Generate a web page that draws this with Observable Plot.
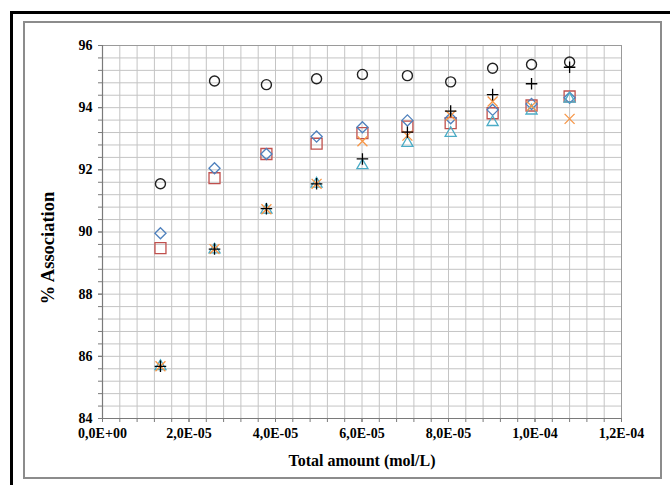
<!DOCTYPE html>
<html><head><meta charset="utf-8">
<script src="https://cdn.jsdelivr.net/npm/d3@7"></script>
<script src="https://cdn.jsdelivr.net/npm/@observablehq/plot@0.6"></script>
<style>
body{margin:0;background:#fff;}
#wrap{position:relative;width:670px;height:485px;overflow:hidden;}
#outer{position:absolute;left:10px;top:11px;width:720px;height:520px;border:3px solid #000;box-sizing:border-box;}
#inner{position:absolute;left:23px;top:21px;width:639px;height:458px;border:2px solid #8c8c8c;box-sizing:border-box;}
#chart{position:absolute;left:0;top:0;}
</style>
</head><body>
<div id="wrap"><div id="outer"></div><div id="inner"></div><div id="chart"></div></div>
<script>
const xVals        = [1.34e-5, 2.59e-5, 3.79e-5, 4.95e-5, 6.01e-5, 7.05e-5, 8.05e-5, 9.02e-5, 9.92e-5, 1.08e-4];
const circleVals   = [91.55, 94.86, 94.74, 94.93, 95.07, 95.03, 94.83, 95.27, 95.39, 95.47];
const diamondVals  = [89.96, 92.05, 92.51, 93.07, 93.37, 93.59, 93.66, 93.93, 94.12, 94.32];
const squareVals   = [89.48, 91.73, 92.51, 92.84, 93.18, 93.39, 93.50, 93.82, 94.07, 94.36];
const triangleVals = [85.68, 89.43, 90.71, 91.55, 92.14, 92.86, 93.18, 93.53, 93.90, 94.28];
const timesVals    = [85.68, 89.45, 90.73, 91.55, 92.92, 93.10, 93.75, 94.20, 94.05, 93.64];
const plusVals     = [85.68, 89.45, 90.75, 91.55, 92.35, 93.21, 93.89, 94.42, 94.77, 95.30];

const xMajorTicks = [0, 2e-5, 4e-5, 6e-5, 8e-5, 1e-4, 1.2e-4];
const xTickLabels = ["0,0E+00", "2,0E-05", "4,0E-05", "6,0E-05", "8,0E-05", "1,0E-04", "1,2E-04"];
const yMajorTicks = [84, 86, 88, 90, 92, 94, 96];
const yTickLabels = ["84", "86", "88", "90", "92", "94", "96"];
const xTitle = "Total amount (mol/L)";
const yTitle = "% Association";

const xGrid = d3.range(0, 31).map(i => i * 4e-6);
const yGrid = d3.range(0, 31).map(i => 84 + i * 0.4);

const data = xVals.map((x, i) => ({
  x, circle: circleVals[i], diamond: diamondVals[i], square: squareVals[i],
  triangle: triangleVals[i], times: timesVals[i], plus: plusVals[i]
}));

const axisColor = "#7a7a7a";
const chart = Plot.plot({
  width: 670, height: 485,
  marginLeft: 102, marginRight: 49, marginTop: 45, marginBottom: 67,
  x: {domain: [0, 1.2e-4]},
  y: {domain: [84, 96]},
  style: {fontFamily: "'Liberation Serif', 'Times New Roman', serif", fontSize: "14px", fontWeight: "bold", background: "transparent", color: "#000", overflow: "visible"},
  marks: [
    Plot.gridX(xGrid, {stroke: "#c4c4c4", strokeOpacity: 1, strokeWidth: 1}),
    Plot.gridY(yGrid, {stroke: "#c4c4c4", strokeOpacity: 1, strokeWidth: 1}),
    Plot.frame({stroke: "#9a9a9a"}),
    Plot.axisX(xGrid, {tickSize: 4, tickFormat: () => "", stroke: axisColor, label: null}),
    Plot.axisX(xMajorTicks, {tickSize: 4, tickPadding: 6, stroke: axisColor, tickFormat: d => xTickLabels[xMajorTicks.indexOf(d)], label: null}),
    Plot.axisY(yGrid, {tickSize: 4, tickFormat: () => "", stroke: axisColor, label: null}),
    Plot.axisY(yMajorTicks, {tickSize: 4, tickPadding: 6, stroke: axisColor, tickFormat: d => yTickLabels[yMajorTicks.indexOf(d)], label: null}),
    Plot.ruleY([84], {stroke: axisColor, strokeWidth: 1.2}),
    Plot.ruleX([0], {stroke: axisColor, strokeWidth: 1.2}),
    Plot.dot(data, {x: "x", y: "circle", symbol: "circle", r: 5, stroke: "#222", strokeWidth: 1.4, fill: "none"}),
    Plot.dot(data, {x: "x", y: "square", symbol: "square2", r: 7, stroke: "#c0504d", strokeWidth: 1.3, fill: "none"}),
    Plot.dot(data, {x: "x", y: "diamond", symbol: "diamond2", r: 5, stroke: "#4f81bd", strokeWidth: 1.3, fill: "none"}),
    Plot.dot(data, {x: "x", y: "triangle", symbol: "triangle2", r: 5.3, stroke: "#4bacc6", strokeWidth: 1.3, fill: "none"}),
    Plot.dot(data, {x: "x", y: "times", symbol: "times", r: 4.6, stroke: "#f79646", strokeWidth: 1.3, fill: "none"}),
    Plot.dot(data, {x: "x", y: "plus", symbol: "plus", r: 3.8, stroke: "#000", strokeWidth: 1.3, fill: "none"}),
    Plot.text([xTitle], {text: d => d, frameAnchor: "bottom", dy: 47, fontSize: 16, fontWeight: "bold"}),
    Plot.text([yTitle], {text: d => d, frameAnchor: "left", textAnchor: "middle", dx: -54, dy: 16, rotate: -90, fontSize: 18.5, fontWeight: "bold"})
  ]
});
document.getElementById("chart").appendChild(chart);
</script>
</body></html>
